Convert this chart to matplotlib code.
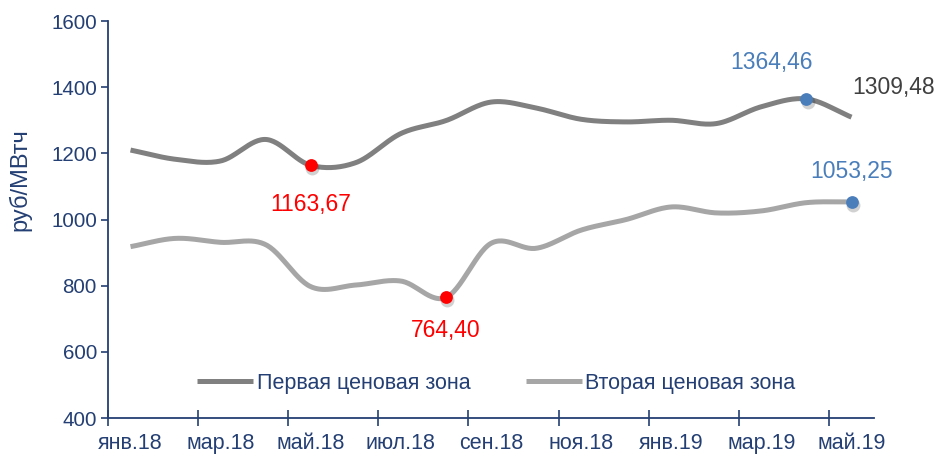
import numpy as np
import matplotlib.pyplot as plt
from matplotlib.transforms import offset_copy

# Данные по месяцам (янв.18 - май.19)
months = ['янв.18', 'фев.18', 'мар.18', 'апр.18', 'май.18', 'июн.18', 'июл.18', 'авг.18',
          'сен.18', 'окт.18', 'ноя.18', 'дек.18', 'янв.19', 'фев.19', 'мар.19', 'апр.19', 'май.19']
zone1 = [1210, 1182, 1177, 1242, 1163.67, 1172, 1260, 1299, 1355, 1337, 1303, 1295,
         1300, 1290, 1341, 1364.46, 1309.48]
zone2 = [918, 943, 931, 924, 797, 802, 814, 764.40, 928, 913, 968, 1000,
         1038, 1020, 1026, 1051, 1053.25]
zone1_name = 'Первая ценовая зона'
zone2_name = 'Вторая ценовая зона'

NAVY = '#243F73'
RED = '#FF0000'
BLUE = '#4A7EBB'

plt.rcParams['font.family'] = ['Liberation Sans', 'DejaVu Sans']


# Сглаживание линии как в Excel (Catmull-Rom)
def smooth(xs, ys, n=30):
    xs = np.asarray(xs, float)
    ys = np.asarray(ys, float)
    px = np.concatenate([[2 * xs[0] - xs[1]], xs, [2 * xs[-1] - xs[-2]]])
    py = np.concatenate([[2 * ys[0] - ys[1]], ys, [2 * ys[-1] - ys[-2]]])
    t = np.linspace(0, 1, n)
    out_x, out_y = [], []
    for i in range(1, len(px) - 2):
        for p, out in ((px, out_x), (py, out_y)):
            p0, p1, p2, p3 = p[i - 1], p[i], p[i + 1], p[i + 2]
            out.extend(0.5 * ((2 * p1) + (-p0 + p2) * t
                              + (2 * p0 - 5 * p1 + 4 * p2 - p3) * t ** 2
                              + (-p0 + 3 * p1 - 3 * p2 + p3) * t ** 3))
    return np.array(out_x), np.array(out_y)


x = np.arange(len(months))

fig = plt.figure(figsize=(9.35, 4.62), dpi=100)
ax = fig.add_axes([0.1155, 0.0952, 0.8193, 0.8593])

sx, sy = smooth(x, zone1)
ax.plot(sx, sy, color='#808080', lw=3.6, solid_capstyle='butt', label=zone1_name)
sx, sy = smooth(x, zone2)
ax.plot(sx, sy, color='#A6A6A6', lw=3.6, solid_capstyle='butt', label=zone2_name)

# Выделенные точки (с лёгкой тенью)
shadow_tr = offset_copy(ax.transData, fig=fig, x=1.0, y=-2.0, units='points')
for xi, yi, c in ((x[4], zone1[4], RED), (x[7], zone2[7], RED),
                  (x[15], zone1[15], BLUE), (x[16], zone2[16], BLUE)):
    ax.plot(xi, yi, 'o', color='black', alpha=0.18, ms=10, mew=0, zorder=4, transform=shadow_tr)
    ax.plot(xi, yi, 'o', color=c, ms=9.2, mew=0, zorder=5)

fmt = lambda v: f'{v:.2f}'.replace('.', ',')
ax.annotate(fmt(zone1[4]), (x[4], zone1[4]), xytext=(0, -28), textcoords='offset points',
            ha='center', va='center', color=RED, fontsize=16.5)
ax.annotate(fmt(zone2[7]), (x[7], zone2[7]), xytext=(0, -24), textcoords='offset points',
            ha='center', va='center', color=RED, fontsize=16.5)
ax.annotate(fmt(zone1[15]), (x[15], zone1[15]), xytext=(-25, 26.5), textcoords='offset points',
            ha='center', va='center', color=BLUE, fontsize=16.5)
ax.annotate(fmt(zone2[16]), (x[16], zone2[16]), xytext=(0, 22), textcoords='offset points',
            ha='center', va='center', color=BLUE, fontsize=16.5)
ax.annotate(fmt(zone1[16]), (x[16], zone1[16]), xytext=(30, 21), textcoords='offset points',
            ha='center', va='center', color='#404040', fontsize=16.5)

ax.set_xlim(-0.5, len(months) - 0.5)
ax.set_ylim(400, 1600)
ax.set_yticks(range(400, 1601, 200))

# Деления между месяцами, подписи — через месяц
ax.set_xticks(np.arange(-0.5, len(months) - 1, 2))
ax.set_xticklabels([])
ax.set_xticks(x[::2], minor=True)
ax.set_xticklabels(months[::2], minor=True)
ax.tick_params(axis='x', which='major', direction='inout', length=11, width=1.2, color=NAVY)
ax.tick_params(axis='x', which='minor', length=0, pad=11, labelsize=15.5, labelcolor=NAVY)
ax.tick_params(axis='y', direction='out', length=5, width=1.2, color=NAVY,
               labelsize=14.8, labelcolor=NAVY, pad=3)

for s in ('top', 'right'):
    ax.spines[s].set_visible(False)
for s in ('left', 'bottom'):
    ax.spines[s].set_color(NAVY)
    ax.spines[s].set_linewidth(1.3)

ax.set_ylabel('руб/МВтч', color=NAVY, fontsize=17)
ax.yaxis.set_label_coords(-0.1, 0.6)

leg = ax.legend(loc='center', bbox_to_anchor=(0.507, 0.088), ncol=2, frameon=False,
                fontsize=15.5, handlelength=2.6, handletextpad=0.15, columnspacing=2.6)
for t in leg.get_texts():
    t.set_color(NAVY)

fig.savefig('out.png', dpi=100)
